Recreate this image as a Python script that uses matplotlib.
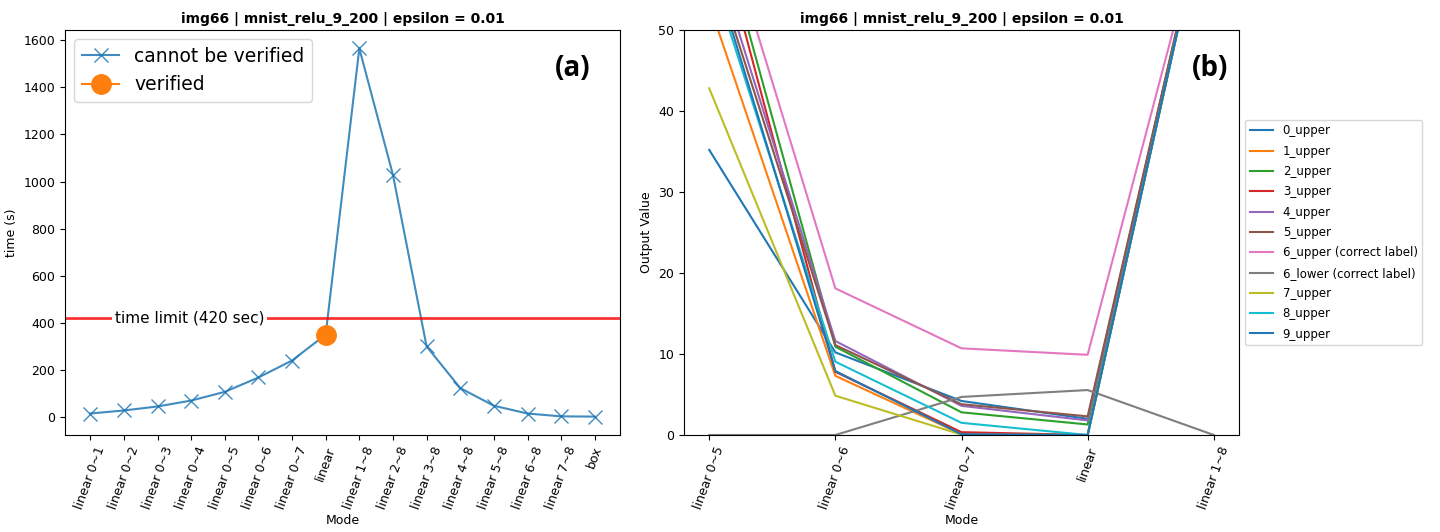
import matplotlib
matplotlib.use("Agg")
import matplotlib.pyplot as plt

# datos del panel (a)
modos_a = ["linear 0~1", "linear 0~2", "linear 0~3", "linear 0~4", "linear 0~5",
           "linear 0~6", "linear 0~7", "linear", "linear 1~8", "linear 2~8",
           "linear 3~8", "linear 4~8", "linear 5~8", "linear 6~8", "linear 7~8", "box"]
tiempos = [15, 28, 45, 70, 107, 168, 240, 350, 1565, 1028, 300, 123, 48, 15, 3, 2]
verificado_idx = 7
limite = 420

# datos del panel (b)
modos_b = ["linear 0~5", "linear 0~6", "linear 0~7", "linear", "linear 1~8"]
etiquetas = ["0_upper", "1_upper", "2_upper", "3_upper", "4_upper", "5_upper",
             "6_upper (correct label)", "6_lower (correct label)", "7_upper",
             "8_upper", "9_upper"]
u0 = [35.2, 10.2, 4.2, 2.0, 70]
u1 = [53.2, 7.3, 0.1, 0.0, 70]
u2 = [67.5, 10.9, 2.8, 1.3, 70]
u3 = [66.3, 7.8, 0.35, 0.0, 70]
u4 = [61.4, 11.6, 3.6, 1.8, 70]
u5 = [59.7, 11.1, 3.8, 2.3, 70]
u6 = [69.1, 18.1, 10.7, 9.9, 69]
l6 = [0.0, 0.0, 4.7, 5.55, 0.0]
u7 = [42.8, 4.85, 0.05, 0.0, 70]
u8 = [57.8, 9.05, 1.5, 0.0, 70]
u9 = [59.2, 7.9, 0.1, 0.0, 70]
series = [u0, u1, u2, u3, u4, u5, u6, l6, u7, u8, u9]

titulo = "img66 | mnist_relu_9_200 | epsilon = 0.01"

plt.rcParams["font.size"] = 9
fig = plt.figure(figsize=(14.4, 5.32), dpi=100)

# panel (a)
ax1 = fig.add_axes([65/1440, 1-435/532, 555/1440, 405/532])
x = list(range(len(modos_a)))
ax1.plot(x, tiempos, marker="x", markersize=10, color="C0", alpha=0.85,
         label="cannot be verified")
ax1.plot([verificado_idx], [tiempos[verificado_idx]], marker="o", markersize=14,
         color="C1", label="verified", zorder=4)
ax1.axhline(limite, color="red", alpha=0.8, linewidth=2)
ax1.text(2.95, limite, "time limit (420 sec)", fontsize=11, ha="center", va="center",
         bbox=dict(facecolor="white", edgecolor="none", pad=2))
ax1.set_xticks(x)
ax1.set_xticklabels(modos_a, rotation=70)
ax1.set_xlabel("Mode", labelpad=2)
ax1.set_ylabel("time (s)")
ax1.set_title(titulo, fontweight="bold", fontsize=10, pad=5)
ax1.legend(loc="upper left", fontsize=13.5)
ax1.text(0.915, 0.906, "(a)", transform=ax1.transAxes, fontsize=20,
         fontweight="bold", family="Open Sans", ha="center", va="center")

# panel (b)
ax2 = fig.add_axes([684/1440, 1-435/532, 555/1440, 405/532])
xb = list(range(len(modos_b)))
for s, lab in zip(series, etiquetas):
    ax2.plot(xb, s, label=lab)
ax2.set_ylim(0, 50)
ax2.set_xticks(xb)
ax2.set_xticklabels(modos_b, rotation=70)
ax2.set_xlabel("Mode", labelpad=2)
ax2.set_ylabel("Output Value")
ax2.set_title(titulo, fontweight="bold", fontsize=10, pad=5)
ax2.legend(loc="center left", bbox_to_anchor=(1.0, 0.5), fontsize=8.5, labelspacing=0.62)
ax2.text(0.948, 0.906, "(b)", transform=ax2.transAxes, fontsize=20,
         fontweight="bold", family="Open Sans", ha="center", va="center")

fig.savefig("out.png", dpi=100)
